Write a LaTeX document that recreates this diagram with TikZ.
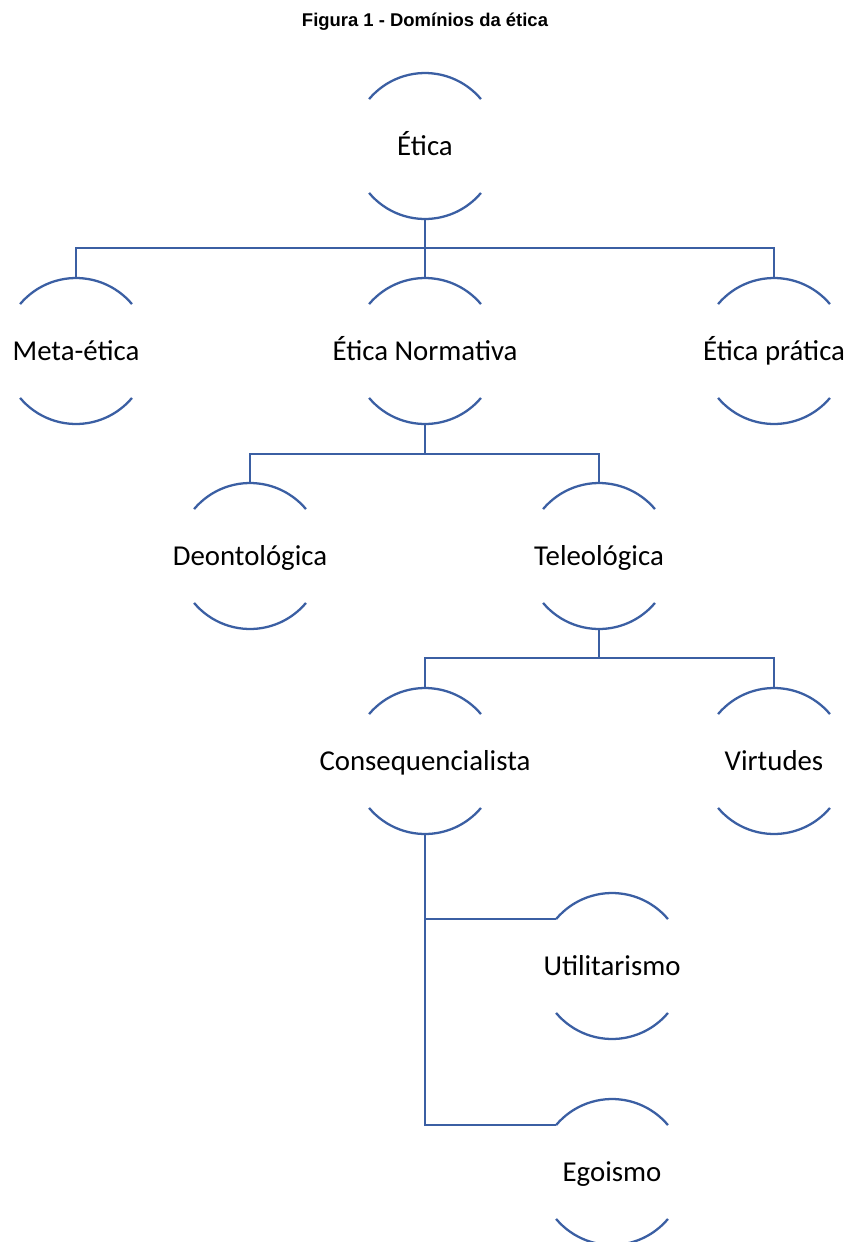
\documentclass[tikz,border=0pt]{standalone}
\usepackage{fontspec}
\setmainfont{Carlito}
\newfontfamily\captionfont{Liberation Sans}
\definecolor{ringblue}{RGB}{59,95,163}

\begin{document}
\begin{tikzpicture}[x=0.02cm,y=0.02cm,line width=1.3pt,draw=ringblue,
  every node/.style={font=\fontsize{16.4}{20}\selectfont},
  ring/.style={circle,minimum size=2.92cm,inner sep=0pt,outer sep=0pt,
    text height=10.6pt,text depth=0pt,
    execute at begin node={\hbox to 0pt\bgroup\hss},
    execute at end node={\hss\egroup}}]
\useasboundingbox (0,0) rectangle (850,-1242);
\node[font=\captionfont\bfseries\fontsize{10.5}{12}\selectfont] (caption) at (425,-22) {Figura 1 - Domínios da ética};
\node[ring] (etica) at (425,-146) {Ética};
\node[ring] (meta) at (76,-351) {Meta-ética};
\node[ring] (norm) at (425,-351) {Ética Normativa};
\node[ring] (pratica) at (774,-351) {Ética prática};
\node[ring] (deon) at (250,-556) {Deontológica};
\node[ring] (teleo) at (599,-556) {Teleológica};
\node[ring] (conseq) at (425,-761) {Consequencialista};
\node[ring] (virt) at (774,-761) {Virtudes};
\node[ring] (util) at (612,-966) {Utilitarismo};
\node[ring] (ego) at (612,-1172) {Egoismo};
% arcs of the rings
\foreach \n in {etica,meta,norm,pratica,deon,teleo,conseq,virt,util,ego}
  \draw (\n.140) arc (140:40:73) (\n.220) arc (220:320:73);
% connectors
\draw (etica.south) -- ++(0,-29) -| (meta.north);
\draw (etica.south) -- ++(0,-29) -| (pratica.north);
\draw (etica.south) -- (norm.north);
\draw (norm.south) -- ++(0,-30) -| (deon.north);
\draw (norm.south) -- ++(0,-30) -| (teleo.north);
\draw (teleo.south) -- ++(0,-29) -| (conseq.north);
\draw (teleo.south) -- ++(0,-29) -| (virt.north);
\draw (conseq.south) |- (util.140);
\draw (conseq.south) |- (ego.140);
\end{tikzpicture}
\end{document}
